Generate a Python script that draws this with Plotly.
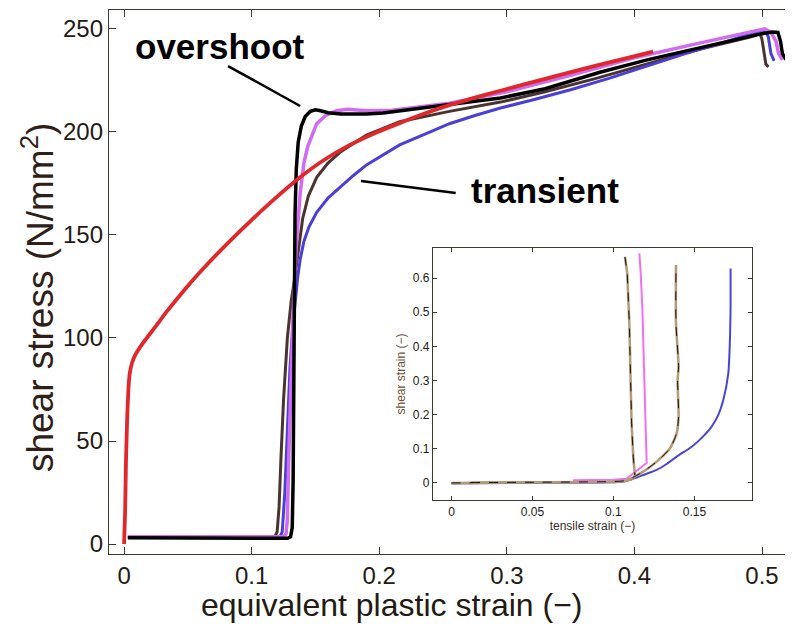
import plotly.graph_objects as go

# ---------------- main plot data ----------------
red_x = [0, 0.0008, 0.0015, 0.0025, 0.0035, 0.0045, 0.0063, 0.009, 0.0149, 0.024, 0.0337, 0.0455,
         0.0596, 0.078, 0.0987, 0.118, 0.138, 0.157, 0.177, 0.196, 0.216, 0.235, 0.255,
         0.275, 0.295, 0.33, 0.37, 0.4146]
red_y = [0, 15, 40, 62, 76, 83, 88, 92, 97.6, 105, 113, 122,
         132, 144, 156.5, 167.5, 178, 186.5, 193.7, 199.3, 204.3, 208.8, 213,
         216.7, 220, 225.8, 232.2, 239]

black_x = [0.003, 0.05, 0.1, 0.128, 0.1305, 0.1318, 0.1325, 0.133, 0.1335, 0.134, 0.135, 0.1365,
           0.139, 0.142, 0.146, 0.15, 0.154, 0.16, 0.17, 0.19, 0.203, 0.22, 0.255, 0.295, 0.33,
           0.373, 0.41, 0.451, 0.498, 0.508, 0.5125, 0.5145, 0.516, 0.5185, 0.523, 0.53]
black_y = [3, 3, 2.8, 2.8, 3.5, 8, 30, 80, 130, 160, 182, 195,
           203, 207.5, 210, 210.8, 210.3, 209.3, 208.7, 208.7, 209.2, 210.5, 213.3, 216.5, 221,
           229, 235, 241, 247.5, 248.5, 248.3, 244, 238, 235.5, 234, 233]

violet_x = [0.003, 0.05, 0.1, 0.125, 0.127, 0.128, 0.129, 0.1305, 0.1325, 0.135, 0.138, 0.141,
            0.144, 0.151, 0.158, 0.1667, 0.175, 0.19, 0.21, 0.255, 0.3, 0.35, 0.4, 0.45, 0.498,
            0.502, 0.507, 0.511, 0.513, 0.516]
violet_y = [3.5, 3.5, 3.2, 3.5, 5, 12, 40, 75, 112, 145, 170, 185,
            193, 204, 208, 210.3, 211, 210.3, 210.5, 214, 219.5, 227.5, 236, 243, 249.5,
            250, 248.5, 244, 238, 235]

brown_x = [0.003, 0.05, 0.1, 0.118, 0.12, 0.1215, 0.123, 0.125, 0.128, 0.131, 0.1335, 0.136,
           0.14, 0.1445, 0.151, 0.16, 0.169, 0.18, 0.19, 0.216, 0.255, 0.295, 0.33, 0.37,
           0.41, 0.45, 0.49, 0.4985, 0.5, 0.5015, 0.503, 0.505]
brown_y = [3.2, 3.2, 3, 3.2, 6, 18, 42, 70, 100, 118, 128, 140,
           158, 169, 178, 185, 190, 194.5, 198.5, 205, 210, 214.5, 219.5, 226,
           233, 240, 246, 247.5, 245, 239, 233, 231.5]

blue_x = [0.003, 0.05, 0.1, 0.122, 0.124, 0.126, 0.128, 0.130, 0.132, 0.134, 0.136, 0.138,
          0.141, 0.145, 0.151, 0.16, 0.169, 0.18, 0.19, 0.216, 0.24, 0.255, 0.275, 0.295,
          0.32, 0.35, 0.38, 0.41, 0.44, 0.47, 0.5, 0.503, 0.505, 0.507, 0.5095]
blue_y = [3.2, 3.2, 3, 3.2, 6, 25, 55, 85, 104, 117, 129, 138,
          147, 154, 161, 168, 173, 179, 184, 193.7, 200, 204, 208, 211.6,
          215.5, 220.5, 226, 232, 238, 243.5, 249.5, 249, 246, 238, 234.5]

main_xticks = [0, 0.1, 0.2, 0.3, 0.4, 0.5]
main_xlabels = ["0", "0.1", "0.2", "0.3", "0.4", "0.5"]
main_yticks = [0, 50, 100, 150, 200, 250]

# ---------------- inset data ----------------
in1_x = [0, 0.05, 0.1, 0.108, 0.1112, 0.1133, 0.1122, 0.1112, 0.1106, 0.1098, 0.1085, 0.1071]
in1_y = [0, 0.001, 0.003, 0.006, 0.011, 0.0185, 0.077, 0.175, 0.321, 0.467, 0.614, 0.662]

in2_x = [0.075, 0.1, 0.108, 0.1122, 0.1205, 0.1201, 0.119, 0.1178, 0.1168, 0.116]
in2_y = [0.008, 0.009, 0.012, 0.028, 0.058, 0.126, 0.321, 0.516, 0.614, 0.672]

in3_x = [0.012, 0.05, 0.1, 0.108, 0.1122, 0.1184, 0.1267, 0.1349, 0.139, 0.1402, 0.1396,
         0.1402, 0.1386, 0.1386]
in3_y = [0.001, 0.002, 0.004, 0.007, 0.0166, 0.033, 0.0624, 0.1015, 0.145, 0.194, 0.301,
         0.34, 0.467, 0.638]

in4_x = [0, 0.05, 0.1, 0.1061, 0.1122, 0.1184, 0.1267, 0.133, 0.139, 0.1483, 0.1545, 0.1606,
         0.1648, 0.1678, 0.1709, 0.1719, 0.1723, 0.1723]
in4_y = [-0.002, 0.0, 0.002, 0.004, 0.012, 0.023, 0.038, 0.056, 0.077, 0.106, 0.132, 0.165,
         0.2, 0.243, 0.321, 0.418, 0.516, 0.628]

inset_xticks = [0, 0.05, 0.1, 0.15]
inset_xlabels = ["0", "0.05", "0.1", "0.15"]
inset_yticks = [0, 0.1, 0.2, 0.3, 0.4, 0.5, 0.6]

FONT = "Liberation Sans, Arial, sans-serif"
TXT = "#231a14"

fig = go.Figure()

def main_line(x, y, color, width, shape="linear"):
    fig.add_trace(go.Scatter(x=x, y=y, mode="lines",
                             line=dict(color=color, width=width, shape=shape, smoothing=0.5),
                             xaxis="x", yaxis="y", showlegend=False, hoverinfo="skip"))

main_line(brown_x, brown_y, "#4a3430", 3)
main_line(blue_x, blue_y, "#4b3fd6", 3)
main_line(violet_x, violet_y, "#cf6cf0", 3.5)
main_line(black_x, black_y, "#000000", 3.5)
main_line(red_x, red_y, "#e0282c", 3.8, "spline")

def inset_line(x, y, color, width, dash="solid", shape="linear"):
    fig.add_trace(go.Scatter(x=x, y=y, mode="lines",
                             line=dict(color=color, width=width, dash=dash, shape=shape, smoothing=0.6),
                             xaxis="x2", yaxis="y2", showlegend=False, hoverinfo="skip"))

inset_line(in4_x, in4_y, "#4a44d8", 2, shape="spline")
inset_line(in2_x, in2_y, "#f070f0", 2)
inset_line(in1_x, in1_y, "#b49a78", 2.5)
inset_line(in1_x, in1_y, "#1a1410", 1, "dash")
inset_line(in3_x, in3_y, "#b49a78", 2.5, shape="spline")
inset_line(in3_x, in3_y, "#1a1410", 1, "dash", shape="spline")

axis_common = dict(showgrid=False, zeroline=False, showline=True, linecolor="#3a3a30",
                   linewidth=1.3, mirror="ticks", ticks="inside", tickcolor="#3a3a30",
                   automargin=False)

# page body adds an 8 px offset; figure is sized to fill the rest of the window
fig.update_layout(
    width=785, height=617,
    margin=dict(l=101, r=0, t=2, b=71),
    paper_bgcolor="white", plot_bgcolor="white",
    font=dict(family=FONT, color=TXT),
    xaxis=dict(domain=[0, 1], range=[-0.0118, 0.5243], tickvals=main_xticks,
               ticktext=main_xlabels, ticklen=7,
               tickfont=dict(size=24, color=TXT),
               **axis_common),
    yaxis=dict(domain=[0, 1], range=[-4.85, 259.2], tickvals=main_yticks, ticklen=7,
               tickfont=dict(size=24, color=TXT),
               **axis_common),
    xaxis2=dict(domain=[0.4737, 0.940], anchor="y2", range=[-0.0114, 0.1855],
                tickvals=inset_xticks, ticktext=inset_xlabels, ticklen=4,
                tickfont=dict(size=12, color=TXT),
                title=dict(text="tensile strain (\u2212)", font=dict(size=12, color="#3a2e24"),
                           standoff=2),
                **axis_common),
    yaxis2=dict(domain=[0.0993, 0.5625], anchor="x2", range=[-0.05, 0.688],
                tickvals=inset_yticks, ticklen=4,
                tickfont=dict(size=12, color=TXT),
                title=dict(text="shear strain (\u2212)", font=dict(size=12, color="#6a5038"),
                           standoff=4),
                **axis_common),
)

# main axis titles
fig.add_annotation(x=0.4137, y=-0.094, xref="paper", yref="paper",
                   text="equivalent plastic strain (\u2212)", showarrow=False,
                   font=dict(size=32, color=TXT, family=FONT), xanchor="center", yanchor="middle")
fig.add_annotation(x=-0.104, y=0.472, xref="paper", yref="paper",
                   text="shear stress (N/mm<sup>2</sup>)", showarrow=False, textangle=-90,
                   font=dict(size=37, color="#2e2018", family=FONT), xanchor="center", yanchor="middle")

# annotations with pointer lines
fig.add_annotation(x=0.0752, y=241.5, xref="x", yref="y", text="<b>overshoot</b>", showarrow=False,
                   font=dict(size=35, color="#000000", family=FONT))
fig.add_annotation(x=0.33, y=171.5, xref="x", yref="y", text="<b>transient</b>", showarrow=False,
                   font=dict(size=35, color="#000000", family=FONT))
fig.add_shape(type="line", xref="x", yref="y", x0=0.0815, y0=232, x1=0.138, y1=212.6,
              line=dict(color="#000000", width=2.5))
fig.add_shape(type="line", xref="x", yref="y", x0=0.1857, y0=176.2, x1=0.260, y1=170.4,
              line=dict(color="#000000", width=2.5))

fig.write_html("out.html")
